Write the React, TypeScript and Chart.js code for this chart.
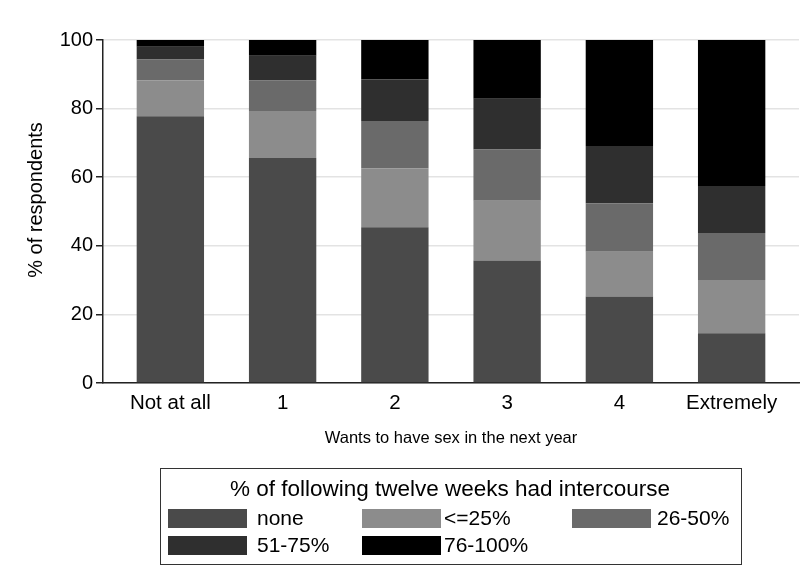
import React, { useEffect, useRef } from "react";
import { Chart, registerables } from "chart.js";

Chart.register(...registerables);

const categories = ["Not at all", "1", "2", "3", "4", "Extremely"];
const seriesLabels = ["none", "<=25%", "26-50%", "51-75%", "76-100%"];
const seriesColors = ["#4a4a4a", "#8c8c8c", "#6a6a6a", "#2f2f2f", "#000000"];
const noneValues = [77.8, 65.6, 45.4, 35.7, 25.2, 14.5];
const upTo25Values = [10.5, 13.7, 17.2, 17.4, 13.1, 15.5];
const from26to50Values = [6.0, 8.9, 13.8, 15.0, 14.1, 13.7];
const from51to75Values = [3.7, 7.2, 12.1, 14.8, 16.7, 13.7];
const from76to100Values = [2.0, 4.6, 11.5, 17.1, 30.9, 42.6];
const yTicks = [0, 20, 40, 60, 80, 100];
const legendTitle = "% of following twelve weeks had intercourse";
const xTitle = "Wants to have sex in the next year";
const yTitle = "% of respondents";

const FONT = "'Liberation Sans', Arial, Helvetica, sans-serif";

const annotationPlugin = {
  id: "stataExtras",
  afterDraw(chart: any) {
    const ctx = chart.ctx;
    const ds = chart.data.datasets;
    ctx.save();
    // y axis title
    ctx.save();
    ctx.translate(36, 200);
    ctx.rotate(-Math.PI / 2);
    ctx.fillStyle = "#000";
    ctx.font = `20px ${FONT}`;
    ctx.textAlign = "center";
    ctx.textBaseline = "middle";
    ctx.fillText(yTitle, 0, 0);
    ctx.restore();
    // legend box
    ctx.strokeStyle = "#333333";
    ctx.lineWidth = 1;
    ctx.strokeRect(160.5, 468.5, 581, 96);
    ctx.fillStyle = "#000";
    ctx.font = `22.5px ${FONT}`;
    ctx.textAlign = "center";
    ctx.textBaseline = "middle";
    ctx.fillText(legendTitle, 450, 490);
    const cols = [168, 362, 572];
    const textX = [257, 444, 657];
    const rows = [509, 536];
    ctx.textAlign = "left";
    ctx.font = `21px ${FONT}`;
    ds.forEach((d: any, i: number) => {
      const c = i % 3;
      const y = rows[Math.floor(i / 3)];
      ctx.fillStyle = d.backgroundColor;
      ctx.fillRect(cols[c], y, 79, 19);
      ctx.fillStyle = "#000";
      ctx.fillText(d.label, textX[c], y + 10);
    });
    ctx.restore();
  },
};

export default function App() {
  const ref = useRef<HTMLCanvasElement | null>(null);
  useEffect(() => {
    document.body.style.margin = "0";
    const seriesValues = [noneValues, upTo25Values, from26to50Values, from51to75Values, from76to100Values];
    const chart = new Chart(ref.current as HTMLCanvasElement, {
      type: "bar",
      data: {
        datasets: seriesValues.map((vals, si) => ({
          label: seriesLabels[si],
          data: vals.map((v, i) => ({ x: i, y: v })),
          backgroundColor: seriesColors[si],
          borderWidth: 0,
          barPercentage: 0.6,
          categoryPercentage: 1,
        })),
      },
      options: {
        animation: false,
        responsive: false,
        layout: { padding: { top: 40, right: 1, bottom: 136, left: 0 } },
        plugins: { legend: { display: false }, tooltip: { enabled: false } },
        scales: {
          x: {
            type: "linear",
            stacked: true,
            offset: false,
            min: -0.6,
            max: 5.6,
            afterBuildTicks: (scale: any) => {
              scale.ticks = categories.map((_, i) => ({ value: i }));
            },
            afterFit: (scale: any) => {
              scale.height = 67;
            },
            grid: { display: false, drawTicks: false },
            border: { display: true, color: "#222", width: 1.5 },
            ticks: {
              color: "#000",
              font: { family: FONT, size: 20.5 },
              padding: 8,
              autoSkip: false,
              maxRotation: 0,
              callback: (v: any) => categories[Math.round(v)] ?? "",
            },
            title: {
              display: true,
              text: xTitle,
              color: "#000",
              font: { family: FONT, size: 16.5 },
              padding: { top: 0, bottom: 2 },
            },
          },
          y: {
            stacked: true,
            min: 0,
            max: 100,
            afterBuildTicks: (scale: any) => {
              scale.ticks = yTicks.map((v) => ({ value: v }));
            },
            afterFit: (scale: any) => {
              scale.width = 103;
            },
            grid: {
              color: "#e3e3e3",
              lineWidth: 1.5,
              drawTicks: true,
              tickLength: 7,
              tickColor: "#222",
            },
            border: { display: true, color: "#222", width: 1.5 },
            ticks: {
              color: "#000",
              font: { family: FONT, size: 20 },
              padding: 3,
            },
            title: { display: false },
          },
        },
      },
      plugins: [annotationPlugin],
    } as any);
    return () => chart.destroy();
  }, []);
  return <canvas ref={ref} width={800} height={586} style={{ display: "block" }} />;
}
